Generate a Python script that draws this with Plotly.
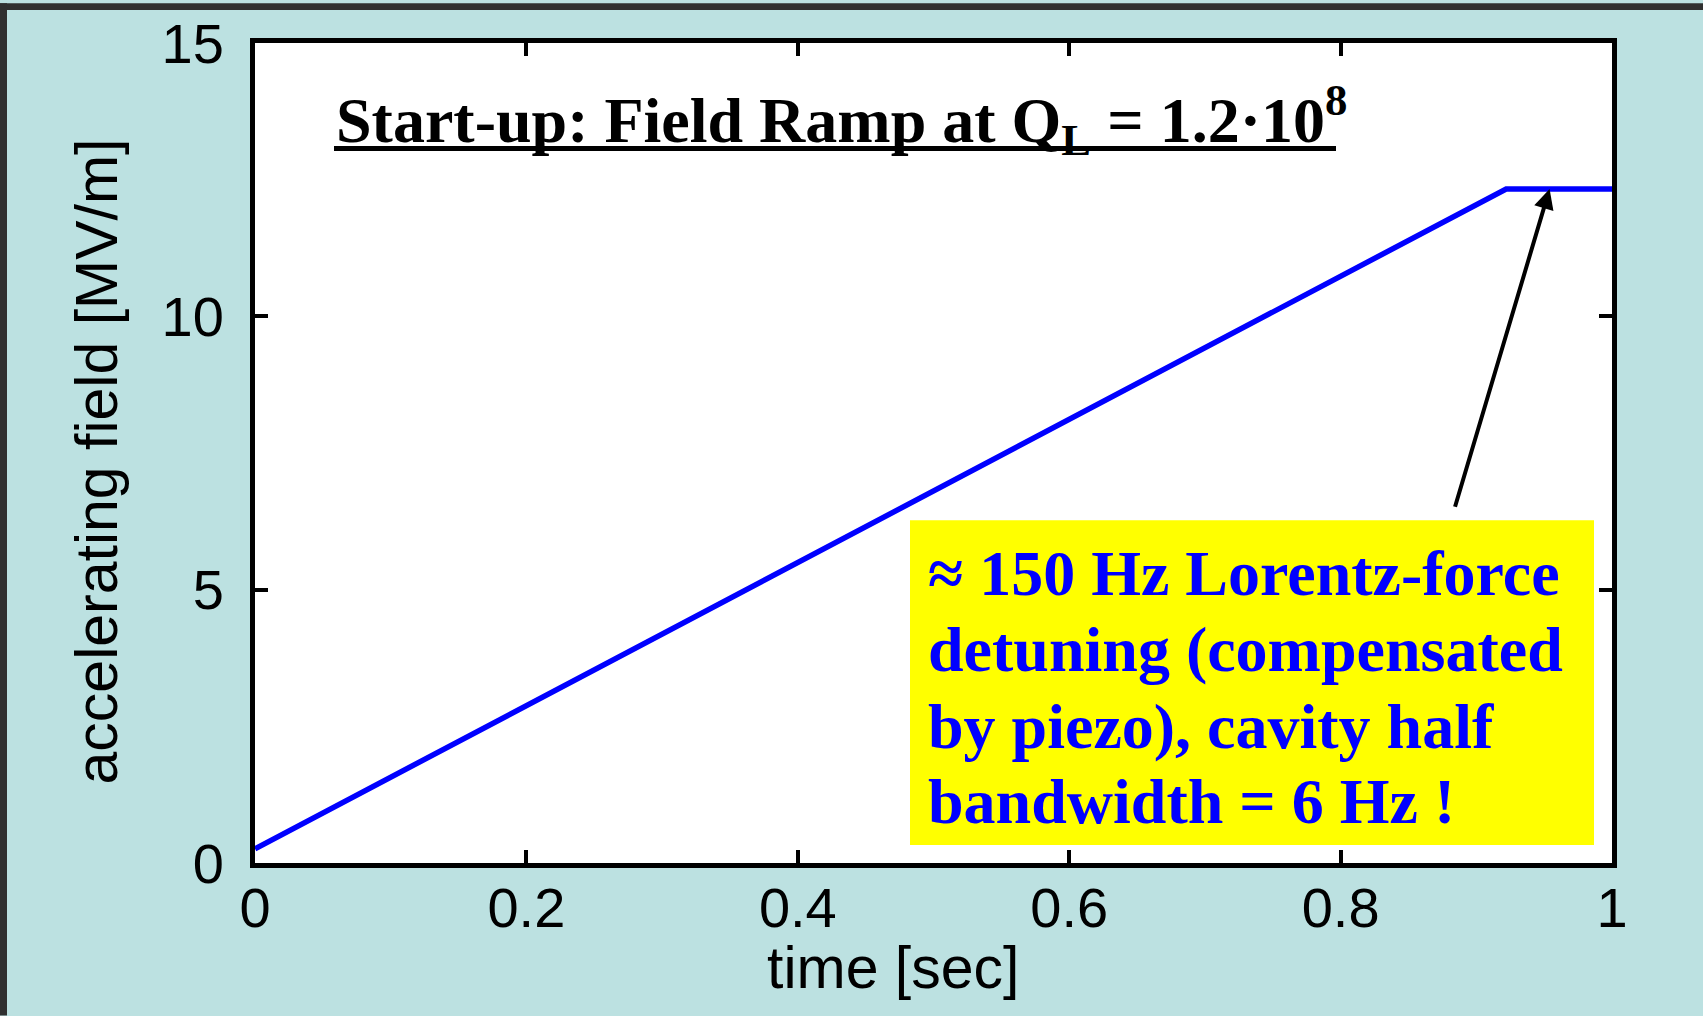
import plotly.graph_objects as go

# ---- data ----
time_s = [0.0, 0.2, 0.4, 0.6, 0.8, 0.922, 1.0]
field_mv_m = [0.26, 2.88, 5.50, 8.11, 10.73, 12.33, 12.33]

x_tickvals = [0, 0.2, 0.4, 0.6, 0.8, 1]
x_ticktext = ["0", "0.2", "0.4", "0.6", "0.8", "1"]
y_tickvals = [0, 5, 10, 15]
y_ticktext = ["0", "5", "10", "15"]

x_title = "time [sec]"
y_title = "accelerating field [MV/m]"
title_text = "<b>Start-up: Field Ramp at Q<sub>L</sub> = 1.2·10<sup>8</sup></b>"
box_lines = [
    "≈ 150 Hz Lorentz-force",
    "detuning (compensated",
    "by piezo), cavity half",
    "bandwidth = 6 Hz !",
]
arrow_tip = (0.954, 12.33)
arrow_tail = (0.884, 6.49)

# ---- layout geometry (pixels) ----
W, H = 1703, 1016
PL, PR, PT, PB = 255, 1612, 40, 863


def px(x):
    return (x - PL) / (PR - PL)


def py(y):
    return (PB - y) / (PB - PT)


BG = "#BCE1E1"
SANS = "Liberation Sans, Arial, Helvetica, sans-serif"
SERIF = "Liberation Serif, Times New Roman, serif"

fig = go.Figure()
fig.add_trace(go.Scatter(
    x=time_s, y=field_mv_m, mode="lines",
    line=dict(color="#0000FF", width=5.5),
    showlegend=False, hoverinfo="skip", cliponaxis=False,
))

axis_common = dict(
    showline=True, linecolor="black", linewidth=5, mirror="ticks",
    ticks="inside", ticklen=13, tickwidth=4, tickcolor="black",
    showgrid=False, zeroline=False,
    tickfont=dict(family=SANS, size=56, color="black"),
)

fig.update_layout(
    width=W, height=H,
    margin=dict(l=PL, r=W - PR, t=PT, b=H - PB),
    paper_bgcolor=BG, plot_bgcolor="white",
    xaxis=dict(range=[0, 1], tickvals=x_tickvals, ticktext=x_ticktext,
               ticklabelstandoff=-8, **axis_common),
    yaxis=dict(range=[0, 15], tickvals=y_tickvals, ticktext=y_ticktext,
               ticklabelstandoff=15, **axis_common),
)

shapes = []
# dark frame on left and top edges of the page
shapes.append(dict(type="rect", xref="paper", yref="paper",
                   x0=px(0), x1=px(7), y0=py(H), y1=py(0),
                   fillcolor="#303030", line=dict(width=0), layer="above"))
shapes.append(dict(type="rect", xref="paper", yref="paper",
                   x0=px(0), x1=px(W), y0=py(7), y1=py(0),
                   fillcolor="#303030", line=dict(width=0), layer="above"))
# yellow annotation box
shapes.append(dict(type="rect", xref="paper", yref="paper",
                   x0=px(910), x1=px(1594), y0=py(845), y1=py(519),
                   fillcolor="#FFFF00", line=dict(width=0), layer="above"))
# title underline
shapes.append(dict(type="line", xref="paper", yref="paper",
                   x0=px(334), x1=px(1336), y0=py(146), y1=py(146),
                   line=dict(color="black", width=5), layer="above"))
fig.update_layout(shapes=shapes)

annotations = []
# axis titles
annotations.append(dict(
    text=x_title, xref="paper", yref="paper",
    x=px(893), y=py(968), xanchor="center", yanchor="middle",
    showarrow=False, font=dict(family=SANS, size=59, color="black"),
))
annotations.append(dict(
    text=y_title, xref="paper", yref="paper", textangle=-90,
    x=px(97), y=py(460), xanchor="center", yanchor="middle",
    showarrow=False, font=dict(family=SANS, size=59, color="black"),
))
# title
annotations.append(dict(
    text=title_text, xref="paper", yref="paper",
    x=px(334), y=py(117), xanchor="left", yanchor="middle",
    showarrow=False, font=dict(family=SERIF, size=64, color="black"),
))
line_centers = [572, 649, 726, 801]
for txt, yc in zip(box_lines, line_centers):
    annotations.append(dict(
        text="<b>" + txt + "</b>", xref="paper", yref="paper",
        x=px(926), y=py(yc), xanchor="left", yanchor="middle",
        showarrow=False, font=dict(family=SERIF, size=64, color="#0000FF"),
    ))
annotations.append(dict(
    text="", x=arrow_tip[0], y=arrow_tip[1], xref="x", yref="y",
    ax=arrow_tail[0], ay=arrow_tail[1], axref="x", ayref="y",
    showarrow=True, arrowhead=2, arrowsize=1.0, arrowwidth=4,
    arrowcolor="black", standoff=0,
))
fig.update_layout(annotations=annotations)

fig.write_html(
    "out.html",
    config={"displayModeBar": False},
    post_script="document.body.style.margin='0';document.body.style.overflow='hidden';",
)
